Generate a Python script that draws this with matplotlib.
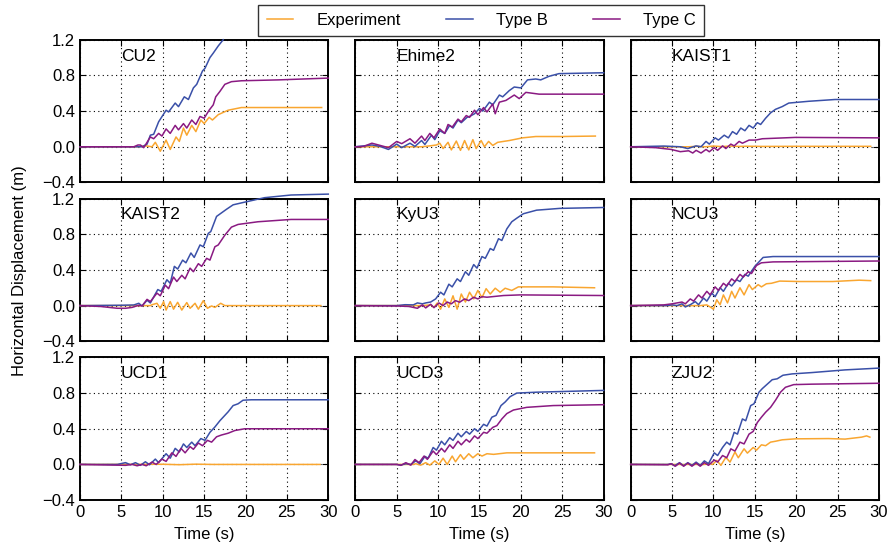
import matplotlib
matplotlib.use("Agg")
import matplotlib.pyplot as plt
from matplotlib.ticker import FuncFormatter

plt.rcParams["font.family"] = ["Liberation Sans", "DejaVu Sans"]
plt.rcParams["font.size"] = 12

COL_EXP = "#f9a630"
COL_B = "#3a50a8"
COL_C = "#8a1a82"

# ---- CU2 ----
CU2_EXP_T = [0, 7, 8, 8.7, 9.1, 9.7, 10.4, 10.9, 11.6, 12.0, 12.5, 12.9, 13.5, 14.0, 14.6, 15.0, 15.6, 16.0, 16.7, 17.9, 19.5, 22, 25, 29.2]
CU2_EXP = [0, 0, 0.01, 0.0, 0.05, -0.05, 0.075, -0.03, 0.11, 0.06, 0.21, 0.13, 0.24, 0.17, 0.30, 0.26, 0.33, 0.30, 0.36, 0.41, 0.44, 0.44, 0.44, 0.44]
# Type B leaves the plotted range at the top; only the visible part is kept
CU2_B_T = [0, 7.5, 8.1, 8.5, 8.9, 9.5, 10.4, 10.7, 11.5, 11.9, 12.6, 13.1, 13.7, 14.1, 14.8, 15.1, 15.7, 16.1, 16.7, 17.3]
CU2_B = [0, 0, 0.03, 0.13, 0.14, 0.28, 0.41, 0.39, 0.49, 0.45, 0.56, 0.53, 0.66, 0.70, 0.85, 0.88, 1.0, 1.05, 1.13, 1.20]
CU2_C_T = [0, 6.5, 7.0, 7.3, 7.7, 8.5, 8.9, 9.5, 9.9, 10.4, 10.9, 11.5, 11.9, 12.5, 12.9, 13.5, 14.0, 14.5, 15.0, 15.6, 16.1, 16.4, 16.9, 17.5, 18.3, 19.5, 24, 30]
CU2_C = [0, 0, 0.02, 0.02, -0.01, 0.11, 0.09, 0.15, 0.12, 0.20, 0.15, 0.24, 0.19, 0.26, 0.21, 0.30, 0.25, 0.34, 0.32, 0.41, 0.47, 0.56, 0.62, 0.70, 0.73, 0.74, 0.75, 0.77]

# ---- Ehime2 ----
EHI_EXP_T = [0, 8, 9, 9.8, 10.2, 10.6, 11.2, 11.6, 12.2, 12.7, 13.2, 13.7, 14.2, 14.6, 15.2, 15.6, 16.1, 16.6, 17.2, 18.6, 20.2, 21.8, 25, 29]
EHI_EXP = [0, 0, 0.01, 0.02, 0.04, -0.02, 0.05, -0.035, 0.064, -0.04, 0.07, -0.035, 0.08, -0.02, 0.07, 0.0, 0.06, 0.015, 0.05, 0.07, 0.10, 0.115, 0.115, 0.12]
EHI_B_T = [0, 2, 3, 4, 5, 5.6, 6.6, 7.2, 8, 8.4, 9.2, 9.6, 10.2, 10.8, 11.4, 11.8, 12.4, 12.8, 13.5, 13.8, 14.4, 15, 15.4, 16.2, 16.6, 17.4, 17.8, 18.6, 19.2, 20, 20.8, 21.8, 22.4, 23.4, 24.6, 30]
EHI_B = [0, 0.02, 0.004, -0.03, 0.03, -0.01, 0.04, 0.004, 0.07, 0.026, 0.13, 0.08, 0.18, 0.15, 0.24, 0.21, 0.30, 0.27, 0.33, 0.34, 0.37, 0.43, 0.40, 0.50, 0.47, 0.58, 0.56, 0.63, 0.67, 0.66, 0.75, 0.76, 0.75, 0.79, 0.82, 0.83]
EHI_C_T = [0, 1, 2, 3, 4, 5, 5.6, 6.6, 7.2, 8, 8.4, 9, 9.5, 10.2, 10.8, 11.2, 11.7, 12.4, 12.8, 13.4, 13.8, 14.4, 14.8, 15.5, 15.9, 16.6, 16.9, 17.4, 18.2, 19.2, 19.8, 20.6, 21.4, 22.2, 30]
EHI_C = [0, 0.004, 0.04, 0.015, -0.01, 0.06, 0.035, 0.09, 0.04, 0.12, 0.07, 0.15, 0.10, 0.20, 0.15, 0.25, 0.22, 0.31, 0.28, 0.35, 0.33, 0.41, 0.36, 0.44, 0.39, 0.48, 0.37, 0.50, 0.52, 0.58, 0.54, 0.61, 0.60, 0.59, 0.59]

# ---- KAIST1 ----
KA1_EXP_T = [0, 7, 8, 9, 10, 11, 12, 13, 14, 16, 20, 29]
KA1_EXP = [0, 0, 0.005, 0, 0.008, 0.002, 0.008, 0.004, 0.006, 0.004, 0.005, 0.005]
KA1_B_T = [0, 4, 6, 6.9, 7.9, 8.5, 9.1, 9.5, 10.2, 10.6, 11.3, 11.8, 12.3, 12.8, 13.3, 13.8, 14.3, 14.8, 15.3, 15.7, 16.3, 16.9, 17.5, 18.3, 19.1, 21.5, 24.7, 30]
KA1_B = [0, 0.008, 0, -0.02, 0.01, 0, 0.06, 0.03, 0.10, 0.075, 0.13, 0.10, 0.17, 0.14, 0.21, 0.18, 0.24, 0.21, 0.27, 0.25, 0.32, 0.38, 0.42, 0.45, 0.49, 0.51, 0.53, 0.53]
KA1_C_T = [0, 3, 4.9, 6, 7, 7.5, 7.9, 8.5, 9.1, 9.5, 10.1, 10.5, 11.1, 11.5, 12.1, 12.5, 13.1, 13.5, 14.3, 15.1, 15.9, 19.9, 30]
KA1_C = [0, -0.01, -0.03, -0.055, -0.045, -0.07, -0.04, -0.07, -0.03, -0.056, -0.01, -0.04, 0.01, -0.02, 0.03, 0.01, 0.06, 0.04, 0.075, 0.075, 0.09, 0.105, 0.10]

# ---- KAIST2 ----
KA2_EXP_T = [0, 8.5, 8.7, 9.3, 9.7, 10.1, 10.4, 10.9, 11.3, 11.8, 12.3, 12.9, 13.3, 13.9, 14.3, 14.9, 15.4, 15.9, 16.3, 17.0, 17.5, 20, 29.1]
KA2_EXP = [0, 0, 0.01, 0.026, -0.03, 0.045, -0.05, 0.045, -0.04, 0.037, -0.05, 0.034, -0.03, 0.026, -0.04, 0.056, -0.03, -0.004, -0.02, 0.026, 0, 0, 0]
KA2_B_T = [0, 5, 6.5, 7.1, 7.5, 8.1, 8.5, 9.4, 9.8, 10.5, 10.9, 11.4, 11.8, 12.4, 12.8, 13.4, 13.8, 14.5, 14.9, 15.5, 15.8, 16.5, 17.1, 17.7, 18.5, 19.9, 22.3, 25.5, 30]
KA2_B = [0, 0.004, 0.007, 0.026, -0.004, 0.06, 0.03, 0.18, 0.16, 0.29, 0.25, 0.44, 0.41, 0.51, 0.48, 0.59, 0.54, 0.68, 0.66, 0.81, 0.83, 1.0, 1.04, 1.08, 1.13, 1.16, 1.21, 1.24, 1.25]
KA2_C_T = [0, 2.5, 4.5, 5.5, 6.3, 7.1, 7.5, 8.1, 8.5, 9.3, 9.7, 10.3, 10.7, 11.3, 11.7, 12.3, 12.7, 13.3, 13.7, 14.3, 14.7, 15.3, 15.7, 16.3, 16.7, 17.5, 18.3, 19.1, 21.5, 25.5, 30]
KA2_C = [0, -0.01, -0.03, -0.03, -0.02, 0.004, -0.004, 0.07, 0.045, 0.14, 0.11, 0.23, 0.19, 0.32, 0.27, 0.34, 0.30, 0.42, 0.38, 0.47, 0.44, 0.53, 0.51, 0.66, 0.68, 0.79, 0.88, 0.91, 0.94, 0.966, 0.966]

# ---- KyU3 ----
KYU_EXP_T = [0, 8, 9.1, 9.5, 9.9, 10.3, 10.8, 11.3, 11.8, 12.3, 12.8, 13.3, 13.8, 14.3, 14.8, 15.3, 15.8, 16.3, 16.9, 17.5, 18.1, 18.9, 19.7, 23.9, 28.9]
KYU_EXP = [0, 0, 0.008, -0.02, 0.03, -0.04, 0.075, -0.02, 0.11, -0.04, 0.13, 0.04, 0.15, 0.075, 0.17, 0.09, 0.19, 0.13, 0.195, 0.15, 0.195, 0.17, 0.21, 0.21, 0.20]
KYU_B_T = [0, 5, 6, 7, 7.5, 8.1, 8.5, 9.1, 9.7, 10.3, 10.7, 11.3, 11.7, 12.3, 12.7, 13.3, 13.7, 14.3, 14.7, 15.3, 15.7, 16.3, 16.7, 17.3, 17.7, 18.3, 18.9, 19.5, 20.3, 21.9, 24.7, 30]
KYU_B = [0, 0, 0.01, 0.008, 0.03, 0.02, 0.03, 0.04, 0.075, 0.15, 0.12, 0.24, 0.21, 0.30, 0.27, 0.38, 0.34, 0.46, 0.42, 0.55, 0.53, 0.64, 0.62, 0.75, 0.73, 0.86, 0.94, 0.98, 1.03, 1.07, 1.09, 1.10]
KYU_C_T = [0, 5, 6.5, 7.5, 8.1, 8.5, 9.1, 9.5, 10.1, 10.6, 11.1, 11.6, 12.1, 12.6, 13.2, 13.7, 14.3, 14.8, 15.3, 15.9, 17.9, 19.9, 30]
KYU_C = [0, -0.004, -0.01, -0.03, 0.008, -0.026, 0.015, -0.023, 0.03, 0.0, 0.04, 0.02, 0.056, 0.038, 0.075, 0.056, 0.094, 0.075, 0.10, 0.094, 0.113, 0.12, 0.113]

# ---- NCU3 ----
NCU_EXP_T = [0, 8.4, 9.2, 9.6, 10, 10.4, 10.8, 11.2, 11.7, 12.2, 12.6, 13.2, 13.7, 14.3, 14.7, 15.4, 15.8, 16.4, 17, 18, 20.4, 24.4, 27.6, 29]
NCU_EXP = [0, 0, 0.008, -0.015, -0.04, 0.065, 0.01, 0.12, 0.03, 0.16, 0.085, 0.2, 0.12, 0.235, 0.18, 0.235, 0.21, 0.245, 0.25, 0.275, 0.27, 0.27, 0.285, 0.28]
NCU_B_T = [0, 4.4, 5, 5.6, 6.2, 6.6, 7.2, 7.8, 8.2, 8.8, 9.2, 9.8, 10.2, 10.8, 11.2, 11.8, 12.2, 12.8, 13.2, 13.8, 14.2, 15, 15.6, 16, 17.2, 30]
NCU_B = [0, 0, 0.008, 0, 0.02, -0.015, 0.01, 0.045, 0.01, 0.085, 0.05, 0.14, 0.10, 0.2, 0.16, 0.25, 0.22, 0.29, 0.27, 0.35, 0.33, 0.44, 0.50, 0.54, 0.55, 0.55]
NCU_C_T = [0, 4, 5, 5.6, 6.2, 6.6, 7.2, 7.6, 8.2, 8.6, 9.2, 9.6, 10.2, 10.6, 11.2, 11.6, 12.2, 12.6, 13.2, 13.6, 14.2, 14.6, 15.2, 15.8, 17.2, 30]
NCU_C = [0, 0.008, 0.02, 0.03, 0.04, 0.02, 0.075, 0.05, 0.12, 0.085, 0.16, 0.12, 0.21, 0.17, 0.25, 0.22, 0.30, 0.27, 0.35, 0.32, 0.38, 0.36, 0.45, 0.48, 0.49, 0.50]

# ---- UCD1 ----
UC1_EXP_T = [0, 10, 12, 14, 16, 20, 29]
UC1_EXP = [0, 0.002, -0.003, 0.003, 0, 0, 0]
UC1_B_T = [0, 4.5, 5.5, 6.1, 6.7, 7.3, 7.9, 8.4, 9.1, 9.5, 10.4, 10.9, 11.5, 12.0, 12.5, 12.9, 13.5, 13.9, 14.6, 15.1, 15.7, 16.3, 16.9, 17.5, 17.9, 18.5, 19.1, 19.7, 20.7, 30]
UC1_B = [0, 0, 0.02, -0.004, 0.02, -0.01, 0.03, -0.004, 0.06, 0.02, 0.12, 0.07, 0.18, 0.14, 0.23, 0.19, 0.25, 0.21, 0.29, 0.27, 0.36, 0.42, 0.49, 0.55, 0.59, 0.66, 0.68, 0.72, 0.725, 0.725]
UC1_C_T = [0, 4.5, 5.5, 6.3, 6.9, 7.5, 8.0, 8.7, 9.2, 9.9, 10.4, 11.1, 11.6, 12.2, 12.7, 13.3, 13.7, 14.3, 14.8, 15.4, 15.9, 16.5, 17.1, 17.9, 18.7, 19.9, 30]
UC1_C = [0, -0.008, -0.01, 0.0, -0.015, 0.0, -0.015, 0.026, 0.0, 0.06, 0.034, 0.13, 0.09, 0.18, 0.13, 0.2, 0.17, 0.24, 0.21, 0.27, 0.25, 0.31, 0.33, 0.35, 0.38, 0.40, 0.40]

# ---- UCD3 ----
UC3_EXP_T = [0, 7, 7.3, 7.9, 8.5, 9.0, 9.6, 10.1, 10.6, 11.1, 11.7, 12.1, 12.7, 13.1, 13.7, 14.2, 14.8, 15.3, 15.9, 16.7, 18.3, 23.9, 28.9]
UC3_EXP = [0, 0, 0.008, -0.008, 0.02, -0.008, 0.04, 0.0, 0.07, 0.0, 0.094, 0.03, 0.11, 0.057, 0.12, 0.075, 0.12, 0.094, 0.12, 0.113, 0.13, 0.13, 0.13]
UC3_B_T = [0, 5, 5.5, 6.1, 6.7, 7.3, 7.8, 8.4, 8.8, 9.4, 9.8, 10.4, 10.8, 11.4, 11.8, 12.4, 12.8, 13.4, 13.8, 14.4, 14.8, 15.5, 15.9, 16.5, 17.0, 17.6, 18.1, 18.7, 19.5, 21.9, 30]
UC3_B = [0, 0, -0.008, 0.008, 0, 0.04, 0.008, 0.09, 0.07, 0.19, 0.16, 0.26, 0.22, 0.30, 0.27, 0.35, 0.31, 0.37, 0.34, 0.40, 0.37, 0.45, 0.43, 0.53, 0.55, 0.66, 0.70, 0.76, 0.80, 0.81, 0.83]
UC3_C_T = [0, 5, 5.5, 6.1, 6.7, 7.2, 7.7, 8.3, 8.7, 9.4, 9.8, 10.4, 10.8, 11.4, 11.8, 12.4, 12.8, 13.4, 13.8, 14.4, 14.8, 15.5, 15.9, 16.6, 17.1, 17.7, 18.3, 19.1, 20.7, 23.9, 30]
UC3_C = [0, 0, -0.01, 0.02, -0.008, 0.055, 0.02, 0.094, 0.057, 0.15, 0.11, 0.18, 0.14, 0.22, 0.18, 0.26, 0.22, 0.28, 0.25, 0.32, 0.29, 0.36, 0.35, 0.415, 0.435, 0.51, 0.57, 0.61, 0.64, 0.66, 0.67]

# ---- ZJU2 ----
ZJU_EXP_T = [0, 9, 9.4, 9.9, 10.4, 10.9, 11.5, 12.0, 12.6, 13.0, 13.7, 14.1, 14.8, 15.2, 15.8, 16.3, 16.9, 17.5, 18.3, 19.9, 23.9, 25.9, 27.9, 28.5, 28.9]
ZJU_EXP = [0, 0, 0.015, 0, 0.045, -0.01, 0.08, 0.026, 0.14, 0.075, 0.175, 0.127, 0.19, 0.16, 0.22, 0.21, 0.25, 0.26, 0.276, 0.287, 0.29, 0.284, 0.306, 0.32, 0.306]
ZJU_B_T = [0, 4.5, 4.9, 5.3, 5.9, 6.4, 6.9, 7.4, 7.9, 8.4, 8.9, 9.4, 10.1, 10.5, 11.1, 11.6, 12.0, 12.5, 12.9, 13.5, 13.9, 14.5, 14.9, 15.5, 15.9, 16.5, 17.1, 17.7, 18.4, 19.5, 21.9, 25.9, 30]
ZJU_B = [0, 0, 0.008, -0.015, 0.02, -0.015, 0.02, -0.01, 0.026, -0.01, 0.04, 0.008, 0.13, 0.10, 0.19, 0.25, 0.22, 0.36, 0.34, 0.51, 0.49, 0.66, 0.68, 0.81, 0.85, 0.9, 0.95, 0.96, 1.0, 1.015, 1.03, 1.06, 1.08]
ZJU_C_T = [0, 4.5, 4.9, 5.4, 5.9, 6.4, 6.9, 7.4, 7.9, 8.4, 8.9, 9.4, 10.1, 10.5, 11.1, 11.6, 12.1, 12.6, 13.2, 13.7, 14.3, 14.8, 15.3, 15.8, 16.3, 16.9, 17.5, 18.1, 18.7, 19.7, 21.9, 30]
ZJU_C = [0, -0.004, 0.008, -0.02, 0.015, -0.02, 0.015, -0.02, 0.015, -0.02, 0.02, -0.01, 0.05, 0.026, 0.10, 0.075, 0.175, 0.15, 0.25, 0.23, 0.34, 0.37, 0.47, 0.53, 0.585, 0.64, 0.72, 0.81, 0.865, 0.895, 0.90, 0.91]

NAMES = ["CU2", "Ehime2", "KAIST1", "KAIST2", "KyU3", "NCU3", "UCD1", "UCD3", "ZJU2"]
PANELS = [
    (CU2_EXP_T, CU2_EXP, CU2_B_T, CU2_B, CU2_C_T, CU2_C),
    (EHI_EXP_T, EHI_EXP, EHI_B_T, EHI_B, EHI_C_T, EHI_C),
    (KA1_EXP_T, KA1_EXP, KA1_B_T, KA1_B, KA1_C_T, KA1_C),
    (KA2_EXP_T, KA2_EXP, KA2_B_T, KA2_B, KA2_C_T, KA2_C),
    (KYU_EXP_T, KYU_EXP, KYU_B_T, KYU_B, KYU_C_T, KYU_C),
    (NCU_EXP_T, NCU_EXP, NCU_B_T, NCU_B, NCU_C_T, NCU_C),
    (UC1_EXP_T, UC1_EXP, UC1_B_T, UC1_B, UC1_C_T, UC1_C),
    (UC3_EXP_T, UC3_EXP, UC3_B_T, UC3_B, UC3_C_T, UC3_C),
    (ZJU_EXP_T, ZJU_EXP, ZJU_B_T, ZJU_B, ZJU_C_T, ZJU_C),
]


def yfmt(v, pos):
    s = "%.1f" % v
    return s.replace("-", "\u2212")


fig, axes = plt.subplots(3, 3, figsize=(8.96, 5.52), dpi=100, sharex=True, sharey=True)

for ax, name, (te, ye, tb, yb, tc, yc) in zip(axes.flat, NAMES, PANELS):
    ax.plot(te, ye, color=COL_EXP, lw=1.1, label="Experiment", zorder=3, clip_on=False)
    ax.plot(tb, yb, color=COL_B, lw=1.1, label="Type B", zorder=3, clip_on=False)
    ax.plot(tc, yc, color=COL_C, lw=1.1, label="Type C", zorder=3, clip_on=False)
    ax.set_xlim(0, 30)
    ax.set_ylim(-0.4, 1.2)
    ax.set_xticks([0, 5, 10, 15, 20, 25, 30])
    ax.set_yticks([-0.4, 0.0, 0.4, 0.8, 1.2])
    ax.yaxis.set_major_formatter(FuncFormatter(yfmt))
    ax.grid(True, color="black", linestyle=(0, (1, 3)), linewidth=0.8)
    ax.tick_params(direction="in", top=True, right=True, length=4, labelsize=12)
    for s in ax.spines.values():
        s.set_linewidth(1.4)
    ax.text(0.165, 0.885, name, transform=ax.transAxes, fontsize=12.5, va="center", ha="left")

for ax in axes[-1]:
    ax.set_xlabel("Time (s)", fontsize=12, labelpad=5)

fig.text(0.022, 0.51, "Horizontal Displacement (m)", rotation=90, va="center", ha="center", fontsize=12)

handles, labels = axes[0, 0].get_legend_handles_labels()
leg = fig.legend(handles, labels, loc="center", bbox_to_anchor=(0.537, 0.963), ncol=3,
                 frameon=True, fancybox=False, edgecolor="black", handlelength=1.6,
                 columnspacing=2.7, handletextpad=1.4, fontsize=12, borderpad=0.5)
leg.get_frame().set_linewidth(1.0)

plt.subplots_adjust(left=0.0893, right=0.981, bottom=0.094, top=0.928, wspace=0.109, hspace=0.113)
plt.savefig("out.png", dpi=100)
